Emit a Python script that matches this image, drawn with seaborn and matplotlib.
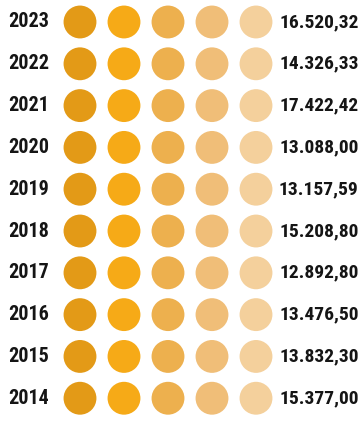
import matplotlib
matplotlib.use("Agg")
import matplotlib.pyplot as plt
import seaborn as sns
import pandas as pd

years = ["2023", "2022", "2021", "2020", "2019", "2018", "2017", "2016", "2015", "2014"]
values = ["16.520,32", "14.326,33", "17.422,42", "13.088,00", "13.157,59",
          "15.208,80", "12.892,80", "13.476,50", "13.832,30", "15.377,00"]
shades = ["#E39A17", "#F6AA17", "#EDB04E", "#F0BE78", "#F4D09C"]

sns.set_style("white")
plt.rcParams["font.family"] = ["Roboto Condensed", "Liberation Sans", "DejaVu Sans"]

# five dots per year, one per shade
rows = []
for r, y in enumerate(years):
    for c in range(len(shades)):
        rows.append({"row": r, "col": c, "shade": str(c)})
df = pd.DataFrame(rows)

fig = plt.figure(figsize=(3.62, 4.25), dpi=100)
ax = fig.add_axes([0, 0, 1, 1])
sns.scatterplot(data=df, x="col", y="row", hue="shade",
                palette=dict(zip([str(i) for i in range(5)], shades)),
                s=560, linewidth=0, legend=False, ax=ax)

ax.set_xlim(-1.818, 6.409)
ax.set_ylim(9.64, -0.526)
for r, (y, v) in enumerate(zip(years, values)):
    ax.text(-1.16, r, y, ha="center", va="center", fontsize=14.5, fontweight="bold", color="#151515")
    ax.text(6.33, r, v, ha="right", va="center", fontsize=14, fontweight="bold", color="#151515")
ax.axis("off")
fig.savefig("out.png", dpi=100)
